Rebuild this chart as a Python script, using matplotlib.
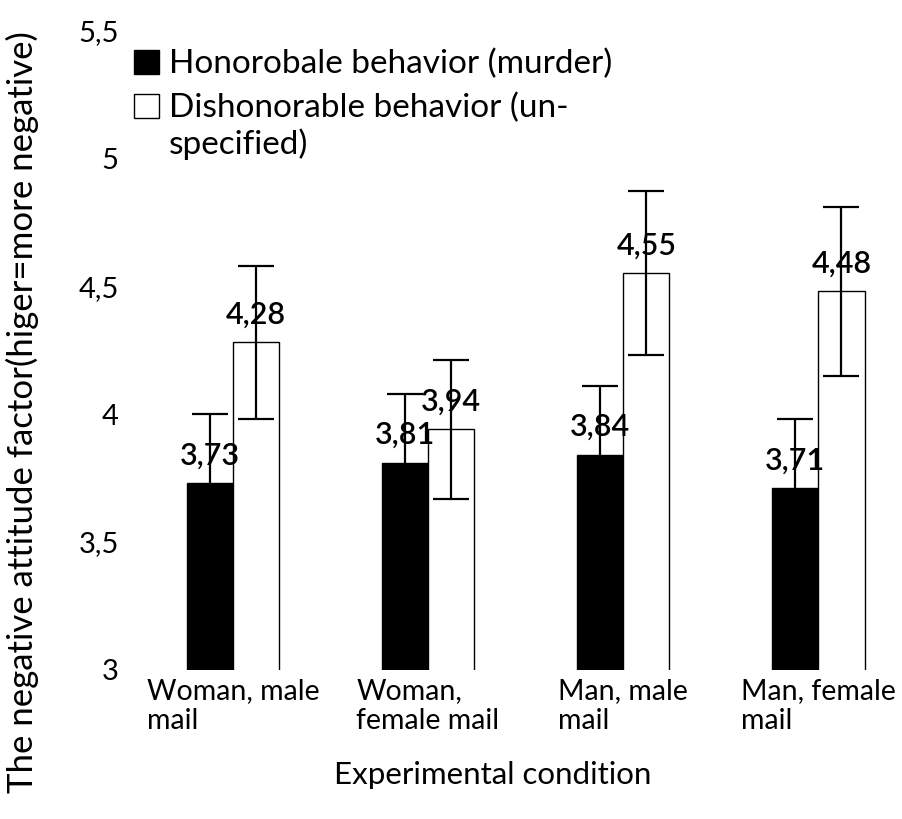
import numpy as np
import matplotlib
matplotlib.use('Agg')
import matplotlib.pyplot as plt
from matplotlib.patches import Patch

plt.rcParams['font.family'] = ['Lato', 'DejaVu Sans']

conditions = ['Woman, male\nmail', 'Woman,\nfemale mail', 'Man, male\nmail', 'Man, female\nmail']
honor_means = [3.73, 3.81, 3.84, 3.71]
honor_err = [0.27, 0.27, 0.27, 0.27]
dishonor_means = [4.28, 3.94, 4.55, 4.48]
dishonor_err = [0.30, 0.27, 0.32, 0.33]
honor_labels = ['3,73', '3,81', '3,84', '3,71']
dishonor_labels = ['4,28', '3,94', '4,55', '4,48']
yticks = [3, 3.5, 4, 4.5, 5, 5.5]
ytick_labels = ['3', '3,5', '4', '4,5', '5', '5,5']

fig = plt.figure(figsize=(9.03, 8.19), dpi=100)
ax = fig.add_axes([0.150, 0.182, 0.864, 0.781])

x = np.arange(len(conditions))
w = 0.238
ekw = dict(elinewidth=1.6, capthick=1.6, ecolor='black')
ax.bar(x - w/2, honor_means, w, color='black', edgecolor='black', linewidth=1,
       yerr=honor_err, capsize=13, error_kw=ekw, zorder=2)
ax.bar(x + w/2, dishonor_means, w, color='white', edgecolor='black', linewidth=1,
       yerr=dishonor_err, capsize=13, error_kw=ekw, zorder=2)

for i in range(len(conditions)):
    ax.annotate(honor_labels[i], (x[i] - w/2, honor_means[i]), xytext=(0, 10),
                textcoords='offset points', ha='center', va='bottom', fontsize=22,
                fontweight='semibold', zorder=3)
    ax.annotate(dishonor_labels[i], (x[i] + w/2, dishonor_means[i]), xytext=(0, 10),
                textcoords='offset points', ha='center', va='bottom', fontsize=22,
                fontweight='semibold', zorder=3)

ax.set_ylim(3, 5.5)
ax.set_xlim(-0.5, 3.5)
ax.set_yticks(yticks)
ax.set_yticklabels(ytick_labels, fontsize=21)
ax.set_xticks(x)
ax.set_xticklabels(conditions, fontsize=20.5, multialignment='left', linespacing=1.2)
ax.tick_params(length=0)
ax.tick_params(axis='y', pad=12)
ax.tick_params(axis='x', pad=6)
for s in ax.spines.values():
    s.set_visible(False)

fig.text(0.025, 0.497, 'The negative attitude factor(higer=more negative)', rotation=90,
         ha='center', va='center', fontsize=25)
fig.text(0.546, 0.054, 'Experimental condition', ha='center', va='center', fontsize=22.5)

# legend: the wrapped second label keeps its box on the first line
handles = [Patch(facecolor='black', edgecolor='black'),
           Patch(facecolor='white', edgecolor='black')]
leg = fig.legend(handles, ['Honorobale behavior (murder)', 'Dishonorable behavior (un-'],
                 loc='upper left', bbox_to_anchor=(0.148, 0.94), frameon=False, fontsize=24,
                 handlelength=0.75, handleheight=0.75, handletextpad=0.3, labelspacing=0.4,
                 borderaxespad=0, borderpad=0)
fig.canvas.draw()
t2 = leg.get_texts()[1]
bb = t2.get_window_extent().transformed(fig.transFigure.inverted())
fig.text(bb.x0, bb.y0 - 0.006, 'specified)', ha='left', va='top', fontsize=24)

fig.savefig('out.png', dpi=100)
